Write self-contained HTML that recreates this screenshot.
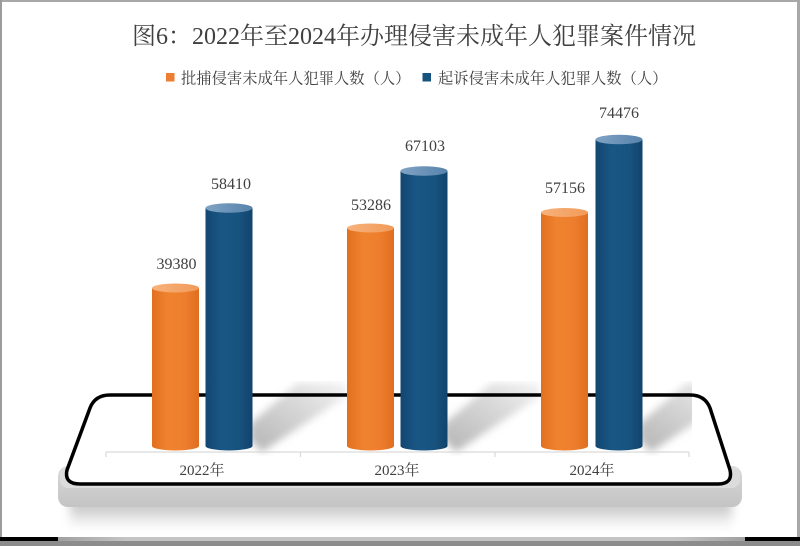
<!DOCTYPE html>
<html>
<head>
<meta charset="utf-8">
<style>
  html, body { margin: 0; padding: 0; background: #fff; }
  body { width: 800px; height: 546px; overflow: hidden; }
  svg { display: block; }
  text { font-family: "Liberation Serif", "Noto Serif CJK SC", serif; fill: #404040; }
</style>
</head>
<body>
<svg width="800" height="546" viewBox="0 0 800 546" xmlns="http://www.w3.org/2000/svg">
  <defs>
    <linearGradient id="gOr" x1="0" x2="1" y1="0" y2="0">
      <stop offset="0" stop-color="#E2701F"/>
      <stop offset="0.35" stop-color="#F0832F"/>
      <stop offset="0.7" stop-color="#EE7E2E"/>
      <stop offset="1" stop-color="#E06E20"/>
    </linearGradient>
    <linearGradient id="gBl" x1="0" x2="1" y1="0" y2="0">
      <stop offset="0" stop-color="#124771"/>
      <stop offset="0.35" stop-color="#1A5685"/>
      <stop offset="0.7" stop-color="#18537F"/>
      <stop offset="1" stop-color="#11446D"/>
    </linearGradient>
    <linearGradient id="gOrTop" x1="0" x2="1" y1="0" y2="0">
      <stop offset="0" stop-color="#F7B27C"/>
      <stop offset="1" stop-color="#F29A58"/>
    </linearGradient>
    <linearGradient id="gBlTop" x1="0" x2="1" y1="0" y2="0">
      <stop offset="0" stop-color="#7FA3C4"/>
      <stop offset="1" stop-color="#5783AB"/>
    </linearGradient>
    <linearGradient id="gSh" x1="0" y1="1" x2="1" y2="0">
      <stop offset="0" stop-color="#b4b4b4"/>
      <stop offset="0.55" stop-color="#d6d6d6"/>
      <stop offset="1" stop-color="#f4f4f4"/>
    </linearGradient>
    <linearGradient id="gSlab" x1="0" x2="0" y1="0" y2="1">
      <stop offset="0" stop-color="#e2e2e2"/>
      <stop offset="0.3" stop-color="#d2d2d2"/>
      <stop offset="1" stop-color="#c4c4c4"/>
    </linearGradient>
    <linearGradient id="gDrop" x1="0" x2="0" y1="0" y2="1">
      <stop offset="0" stop-color="#b8b8b8"/>
      <stop offset="1" stop-color="#ffffff"/>
    </linearGradient>
    <linearGradient id="gBotBand" x1="0" x2="1" y1="0" y2="0">
      <stop offset="0" stop-color="#a0a0a0"/>
      <stop offset="0.1" stop-color="#c4c4c4"/>
      <stop offset="0.9" stop-color="#c4c4c4"/>
      <stop offset="1" stop-color="#a0a0a0"/>
    </linearGradient>
    <filter id="blur3" x="-20%" y="-20%" width="140%" height="140%">
      <feGaussianBlur stdDeviation="4"/>
    </filter>
    <filter id="blur5" x="-10%" y="-50%" width="120%" height="200%">
      <feGaussianBlur stdDeviation="5"/>
    </filter>
    <clipPath id="shClip">
      <rect x="60" y="381" width="632" height="75"/>
    </clipPath>
  </defs>

  <!-- background & frame -->
  <rect x="0" y="0" width="800" height="546" fill="#ffffff"/>
  <rect x="0" y="0" width="800" height="2" fill="#a8a8a8"/>
  <rect x="0" y="0" width="2" height="546" fill="#9c9c9c"/>
  <rect x="797" y="0" width="3" height="546" fill="#a8a8a8"/>

  <!-- platform drop shadow -->
  <rect x="70" y="500" width="662" height="28" fill="url(#gDrop)" filter="url(#blur5)"/>
  <!-- platform slab -->
  <rect x="58" y="466" width="684" height="41" rx="10" ry="10" fill="url(#gSlab)"/>
  <rect x="60" y="466" width="680" height="22" rx="8" ry="8" fill="#dcdcdc"/>

  <!-- platform top fill -->
  <path d="M 110 395 L 690 395 Q 705 395 710 408 L 730 470 Q 733 484 718 484 L 80 484 Q 64 484 67 470 L 90 408 Q 95 395 110 395 Z" fill="#ffffff"/>

  <!-- bar shadows -->
  <g clip-path="url(#shClip)" filter="url(#blur3)">
    <polygon points="250,440 262,452 348,395 344,383 298,383 250,424" fill="url(#gSh)"/>
    <polygon points="444,440 456,452 542,395 538,383 492,383 444,424" fill="url(#gSh)"/>
    <polygon points="639,440 651,452 737,395 733,383 687,383 639,424" fill="url(#gSh)"/>
  </g>

  <!-- platform outline -->
  <path d="M 110 395 L 690 395 Q 705 395 710 408 L 730 470 Q 733 484 718 484 L 80 484 Q 64 484 67 470 L 90 408 Q 95 395 110 395 Z" fill="none" stroke="#000" stroke-width="3.5"/>

  <!-- axis -->
  <g stroke="#d9d9d9" stroke-width="1.2">
    <line x1="106" y1="452" x2="689" y2="452"/>
    <line x1="106" y1="452" x2="106" y2="457"/>
    <line x1="300.5" y1="452" x2="300.5" y2="457"/>
    <line x1="495" y1="452" x2="495" y2="457"/>
    <line x1="689" y1="452" x2="689" y2="457"/>
  </g>

  <!-- bars: 2022 -->
  <g>
    <ellipse cx="175.5" cy="446" rx="23.5" ry="4.5" fill="url(#gOr)"/>
    <rect x="152" y="288" width="47" height="158" fill="url(#gOr)"/>
    <ellipse cx="175.5" cy="288" rx="23.5" ry="4.5" fill="url(#gOrTop)"/>

    <ellipse cx="229" cy="446" rx="23.5" ry="4.5" fill="url(#gBl)"/>
    <rect x="205.5" y="208" width="47" height="238" fill="url(#gBl)"/>
    <ellipse cx="229" cy="208" rx="23.5" ry="4.8" fill="url(#gBlTop)"/>
  </g>
  <!-- bars: 2023 -->
  <g>
    <ellipse cx="370.5" cy="446" rx="23.5" ry="4.5" fill="url(#gOr)"/>
    <rect x="347" y="228" width="47" height="218" fill="url(#gOr)"/>
    <ellipse cx="370.5" cy="228" rx="23.5" ry="4.5" fill="url(#gOrTop)"/>

    <ellipse cx="424" cy="446" rx="23.5" ry="4.5" fill="url(#gBl)"/>
    <rect x="400.5" y="171" width="47" height="275" fill="url(#gBl)"/>
    <ellipse cx="424" cy="171" rx="23.5" ry="4.8" fill="url(#gBlTop)"/>
  </g>
  <!-- bars: 2024 -->
  <g>
    <ellipse cx="564.5" cy="446" rx="23.5" ry="4.5" fill="url(#gOr)"/>
    <rect x="541" y="212.5" width="47" height="233.5" fill="url(#gOr)"/>
    <ellipse cx="564.5" cy="212.5" rx="23.5" ry="4.5" fill="url(#gOrTop)"/>

    <ellipse cx="619" cy="446" rx="23.5" ry="4.5" fill="url(#gBl)"/>
    <rect x="595.5" y="139.5" width="47" height="306.5" fill="url(#gBl)"/>
    <ellipse cx="619" cy="139.5" rx="23.5" ry="4.8" fill="url(#gBlTop)"/>
  </g>

  <!-- value labels -->
  <g font-size="16" text-anchor="middle">
    <text x="176.5" y="269">39380</text>
    <text x="231" y="189">58410</text>
    <text x="371" y="210">53286</text>
    <text x="425" y="151">67103</text>
    <text x="565" y="193">57156</text>
    <text x="619" y="118">74476</text>
  </g>

  <!-- category labels -->
  <g font-size="15" text-anchor="middle">
    <text x="202" y="475">2022年</text>
    <text x="397" y="475">2023年</text>
    <text x="592" y="475">2024年</text>
  </g>

  <!-- title -->
  <text x="414" y="44" font-size="24" text-anchor="middle">图<tspan font-family="Liberation Serif">6</tspan>：<tspan font-family="Liberation Serif">2022</tspan>年至<tspan font-family="Liberation Serif">2024</tspan>年办理侵害未成年人犯罪案件情况</text>

  <!-- legend -->
  <rect x="166" y="73" width="8.5" height="8.5" fill="#ED7D31"/>
  <text x="181" y="83.5" font-size="15.3">批捕侵害未成年人犯罪人数（人）</text>
  <rect x="422.5" y="73" width="8.5" height="8.5" fill="#18537F"/>
  <text x="438" y="83.5" font-size="15.3">起诉侵害未成年人犯罪人数（人）</text>

  <!-- bottom frame band -->
  <rect x="0" y="537" width="800" height="4" fill="#000"/>
  <rect x="58" y="537" width="687" height="4" fill="url(#gBotBand)"/>
  <rect x="0" y="541" width="800" height="5" fill="#8c8c8c"/>
</svg>
</body>
</html>
